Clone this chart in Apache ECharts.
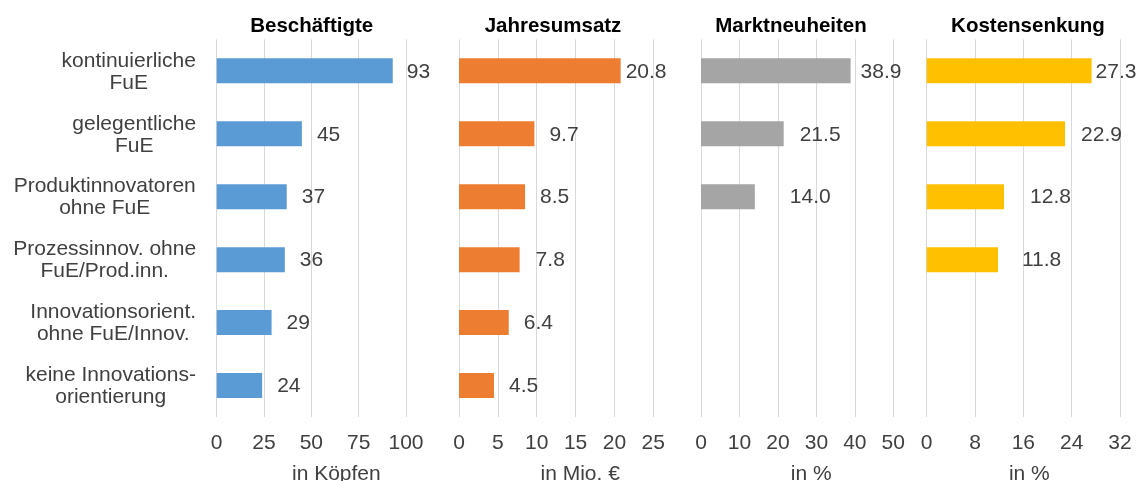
<!DOCTYPE html>
<html>
<head>
<meta charset="utf-8">
<script src="https://cdn.jsdelivr.net/npm/echarts@6/dist/echarts.min.js"></script>
<style>html,body{margin:0;padding:0;background:#fff}#c{width:1141px;height:481px}</style>
</head>
<body>
<div id="c"></div>
<script>
const categories = [
  "kontinuierliche\nFuE",
  "gelegentliche\nFuE",
  "Produktinnovatoren\nohne FuE",
  "Prozessinnov. ohne\nFuE/Prod.inn.",
  "Innovationsorient.\nohne FuE/Innov.",
  "keine Innovations-\norientierung"
];
const panelTitles = ["Beschäftigte", "Jahresumsatz", "Marktneuheiten", "Kostensenkung"];
const axisNames = ["in Köpfen", "in Mio. €", "in %", "in %"];
const employees = [93, 45, 37, 36, 29, 24];
const revenue = [20.8, 9.7, 8.5, 7.8, 6.4, 4.5];
const marketNovelty = [38.9, 21.5, 14.0, null, null, null];
const costReduction = [27.3, 22.9, 12.8, 11.8, null, null];
const axisMax = [100, 25, 50, 32];
const axisInterval = [25, 5, 10, 8];
const decimals = [0, 1, 1, 1];

// styling / layout
const colors = ["#5B9BD5", "#ED7D31", "#A5A5A5", "#FFC000"];
const gridLeft = [216.7, 459, 701, 926.7];
const gridWidth = [189.3, 194.3, 192.3, 193.3];
const titleCenter = [311.7, 553, 791, 1028];
const nameShift = [25, 24, 14, 6];
const labelGap = [
  [14, 15, 15, 15, 15, 15],
  [5, 15, 15, 16, 15, 15],
  [10, 16, 35, 0, 0, 0],
  [4, 16, 26, 24, 0, 0]
];
const FONT = "'Liberation Sans', Arial, sans-serif";
const FS = 21;
const seriesData = [employees, revenue, marketNovelty, costReduction];

// measure label widths to center lines within each block
const cv = document.createElement('canvas').getContext('2d');
cv.font = FS + "px 'Liberation Sans'";
const rich = {};
categories.forEach((c, i) => {
  const w = Math.max(...c.split('\n').map(l => cv.measureText(l).width));
  rich['c' + i] = { width: Math.ceil(w) + 1, align: 'center', fontSize: FS, lineHeight: 22, color: '#404040', fontFamily: FONT };
});

const grids = [], xAxes = [], yAxes = [], series = [], titles = [];
for (let p = 0; p < 4; p++) {
  grids.push({ left: gridLeft[p], width: gridWidth[p], top: 39.3, height: 377.7, containLabel: false, outerBoundsMode: 'none' });
  titles.push({
    text: panelTitles[p], left: titleCenter[p], top: 16, textAlign: 'center', padding: 0,
    textStyle: { fontFamily: FONT, fontSize: 20.5, fontWeight: 'bold', color: '#000' }
  });
  xAxes.push({
    type: 'value', gridIndex: p, min: 0, max: axisMax[p], interval: axisInterval[p],
    name: axisNames[p], nameLocation: 'middle', nameGap: 47,
    nameTextStyle: { fontFamily: FONT, fontSize: FS, color: '#404040', padding: [0, 0, 0, nameShift[p] * 2] },
    axisLine: { show: false }, axisTick: { show: false },
    axisLabel: { fontFamily: FONT, fontSize: FS, color: '#404040', margin: 16 },
    splitLine: { show: true, lineStyle: { color: '#D9D9D9', width: 1 } }
  });
  yAxes.push({
    type: 'category', gridIndex: p, data: categories, inverse: true,
    axisLine: { show: false }, axisTick: { show: false }, splitLine: { show: false },
    axisLabel: p === 0 ? {
      show: true, margin: 20, align: 'right', padding: [2, 0, 0, 0],
      formatter: (v, i) => v.split('\n').map(l => '{c' + i + '|' + l + '}').join('\n'),
      rich: rich
    } : { show: false }
  });
  series.push({
    type: 'bar', xAxisIndex: p, yAxisIndex: p, barWidth: 25,
    itemStyle: { color: colors[p] },
    data: seriesData[p].map((v, i) => v == null ? null : {
      value: v,
      label: { distance: labelGap[p][i] }
    }),
    label: {
      show: true, position: 'right', fontFamily: FONT, fontSize: FS, color: '#404040',
      offset: [0, 1],
      formatter: d => d.value == null ? '' : Number(d.value).toFixed(decimals[p])
    },
    animation: false
  });
}

const chart = echarts.init(document.getElementById('c'), null, { renderer: 'canvas' });
chart.setOption({
  backgroundColor: '#fff',
  animation: false,
  title: titles,
  grid: grids,
  xAxis: xAxes,
  yAxis: yAxes,
  series: series
});
</script>
</body>
</html>
